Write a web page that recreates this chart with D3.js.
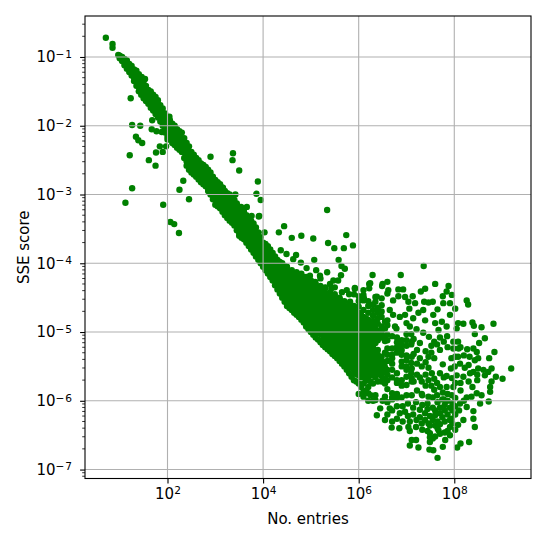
<!DOCTYPE html>
<html lang="en">
<head>
<meta charset="utf-8">
<title>SSE score vs entries</title>
<script src="https://cdnjs.cloudflare.com/ajax/libs/d3/7.1.1/d3.min.js"></script>
<style>
html, body { margin: 0; padding: 0; background: #fff; }
svg { display: block; }
text { font-family: "DejaVu Sans", sans-serif; fill: #000; }
</style>
</head>
<body>
<div id="chart"></div>
<script>

// all values as log10 exponents
// each row: entries exponent, then the sse exponents seen in that column
const headBand = [
  [0.71,-0.72],[0.85,-0.81,-0.865],[0.97,-0.97],[1.0,-0.98,-1.02],[1.05,-1.0,-1.06],
  [1.1,-1.03,-1.08,-1.12],[1.15,-1.05,-1.11,-1.17],[1.2,-1.10,-1.16,-1.22],[1.25,-1.13,-1.2,-1.27],
  [1.3,-1.18,-1.24,-1.3,-1.35],[1.35,-1.2,-1.28,-1.35,-1.42],[1.4,-1.25,-1.32,-1.38,-1.44,-1.5],
  [1.45,-1.3,-1.37,-1.44,-1.5,-1.55],[1.5,-1.35,-1.41,-1.47,-1.54,-1.6],[1.55,-1.42,-1.48,-1.54,-1.6,-1.64],
  [1.6,-1.48,-1.53,-1.59,-1.64,-1.68],[1.65,-1.5,-1.57,-1.63,-1.7,-1.74],[1.7,-1.55,-1.61,-1.67,-1.73,-1.78],
  [1.75,-1.58,-1.65,-1.71,-1.77,-1.83],[1.8,-1.63,-1.69,-1.75,-1.82,-1.88],[1.85,-1.7,-1.76,-1.82,-1.88,-1.94],
  [1.9,-1.75,-1.81,-1.87,-1.94,-2.0],[1.95,-1.82,-1.89,-1.96,-2.03,-2.1],
  [2.0,-1.9,-1.96,-2.03,-2.1,-2.16,-2.2],[2.05,-1.92,-1.99,-2.06,-2.13,-2.2],[2.1,-1.97,-2.03,-2.1,-2.17,-2.25],
  [2.15,-2.0,-2.07,-2.14,-2.21,-2.28],[2.2,-2.05,-2.11,-2.18,-2.25,-2.32],[2.25,-2.08,-2.15,-2.22,-2.29,-2.35],
  [2.3,-2.1,-2.18,-2.25,-2.32,-2.38],[2.35,-2.18,-2.25,-2.32,-2.39,-2.47],[2.4,-2.25,-2.31,-2.38,-2.45,-2.52,-2.58],
  [2.45,-2.3,-2.37,-2.44,-2.51,-2.58,-2.64],[2.5,-2.38,-2.44,-2.5,-2.56,-2.62,-2.68],[2.55,-2.42,-2.48,-2.54,-2.6,-2.66,-2.71],
  [2.6,-2.47,-2.53,-2.59,-2.65,-2.7,-2.74],[2.65,-2.5,-2.56,-2.62,-2.68,-2.74,-2.78],[2.7,-2.55,-2.61,-2.67,-2.72,-2.77,-2.82],
  [2.75,-2.57,-2.63,-2.7,-2.76,-2.82,-2.85],[2.8,-2.6,-2.67,-2.73,-2.79,-2.84,-2.88],[2.85,-2.64,-2.71,-2.78,-2.85,-2.91,-2.95],
  [2.9,-2.68,-2.75,-2.82,-2.88,-2.94,-3.0],[2.95,-2.74,-2.8,-2.87,-2.94,-3.01,-3.07],[3.0,-2.79,-2.85,-2.92,-2.98,-3.05,-3.15]
];

const midBand = [
  [3.05,-2.82,-2.89,-2.96,-3.03,-3.1,-3.17],[3.1,-2.85,-2.92,-2.99,-3.06,-3.13,-3.2],[3.15,-2.9,-2.97,-3.04,-3.11,-3.18,-3.25],
  [3.2,-2.95,-3.02,-3.09,-3.16,-3.23,-3.3],[3.25,-2.98,-3.05,-3.12,-3.19,-3.26,-3.34],[3.3,-3.0,-3.07,-3.14,-3.22,-3.3,-3.38],
  [3.35,-3.05,-3.12,-3.19,-3.26,-3.33,-3.41],[3.4,-3.08,-3.15,-3.22,-3.29,-3.37,-3.45],[3.45,-3.13,-3.2,-3.27,-3.35,-3.43,-3.52],
  [3.5,-3.18,-3.25,-3.33,-3.4,-3.48,-3.56,-3.6],[3.55,-3.21,-3.29,-3.36,-3.44,-3.52,-3.6,-3.63],[3.6,-3.25,-3.33,-3.4,-3.48,-3.55,-3.62,-3.65],
  [3.65,-3.3,-3.37,-3.44,-3.51,-3.58,-3.65,-3.7],[3.7,-3.34,-3.41,-3.48,-3.55,-3.62,-3.69,-3.75],[3.75,-3.38,-3.45,-3.52,-3.59,-3.66,-3.73,-3.8],
  [3.8,-3.42,-3.49,-3.56,-3.63,-3.7,-3.78,-3.85],[3.85,-3.48,-3.55,-3.62,-3.69,-3.76,-3.83,-3.9],[3.9,-3.55,-3.62,-3.69,-3.76,-3.83,-3.9,-3.95],
  [3.95,-3.62,-3.69,-3.76,-3.83,-3.9,-3.96,-4.0],[4.0,-3.7,-3.76,-3.82,-3.88,-3.94,-4.0,-4.05],[4.05,-3.72,-3.79,-3.86,-3.93,-4.0,-4.06,-4.1],
  [4.1,-3.75,-3.82,-3.89,-3.96,-4.03,-4.1,-4.15],[4.15,-3.8,-3.87,-3.94,-4.01,-4.08,-4.15,-4.2],[4.2,-3.85,-3.92,-3.99,-4.06,-4.13,-4.2,-4.25],
  [4.25,-3.9,-3.97,-4.04,-4.11,-4.18,-4.25,-4.32],[4.3,-3.95,-4.02,-4.09,-4.16,-4.23,-4.3,-4.38],[4.35,-3.98,-4.05,-4.12,-4.19,-4.26,-4.33,-4.4,-4.44],
  [4.4,-4.0,-4.07,-4.14,-4.21,-4.28,-4.35,-4.42,-4.5],[4.45,-4.04,-4.11,-4.18,-4.25,-4.32,-4.39,-4.46,-4.56],[4.5,-4.05,-4.12,-4.19,-4.26,-4.33,-4.4,-4.47,-4.54,-4.62],
  [4.55,-4.14,-4.21,-4.28,-4.35,-4.42,-4.49,-4.56,-4.65],[4.6,-4.1,-4.17,-4.24,-4.31,-4.38,-4.45,-4.52,-4.6,-4.68],[4.65,-4.15,-4.22,-4.29,-4.36,-4.43,-4.5,-4.57,-4.64,-4.72],
  [4.7,-4.13,-4.2,-4.27,-4.34,-4.41,-4.48,-4.55,-4.62,-4.69,-4.75],[4.75,-4.2,-4.27,-4.34,-4.41,-4.48,-4.55,-4.62,-4.69,-4.78],[4.8,-4.15,-4.22,-4.29,-4.36,-4.43,-4.5,-4.57,-4.64,-4.71,-4.82],
  [4.85,-4.2,-4.27,-4.34,-4.41,-4.48,-4.55,-4.62,-4.69,-4.76,-4.86],[4.9,-4.2,-4.28,-4.35,-4.42,-4.49,-4.56,-4.63,-4.7,-4.78,-4.85,-4.92],[4.95,-4.25,-4.33,-4.4,-4.47,-4.54,-4.61,-4.68,-4.75,-4.82,-4.9,-4.96],
  [5.0,-4.25,-4.33,-4.4,-4.47,-4.54,-4.61,-4.68,-4.75,-4.82,-4.9,-5.0],[5.05,-4.32,-4.39,-4.46,-4.53,-4.6,-4.67,-4.74,-4.81,-4.88,-4.95,-5.04],[5.1,-4.3,-4.37,-4.44,-4.51,-4.58,-4.65,-4.72,-4.79,-4.86,-4.93,-5.0,-5.08],
  [5.15,-4.38,-4.45,-4.52,-4.59,-4.66,-4.73,-4.8,-4.87,-4.94,-5.01,-5.11],[5.2,-4.22,-4.33,-4.4,-4.47,-4.54,-4.61,-4.68,-4.75,-4.82,-4.89,-4.96,-5.03,-5.15],[5.25,-4.42,-4.49,-4.56,-4.63,-4.7,-4.77,-4.84,-4.91,-4.98,-5.05,-5.12,-5.19],
  [5.3,-4.35,-4.43,-4.5,-4.57,-4.64,-4.71,-4.78,-4.85,-4.92,-4.99,-5.06,-5.13,-5.22],[5.35,-4.46,-4.53,-4.6,-4.67,-4.74,-4.81,-4.88,-4.95,-5.02,-5.09,-5.16,-5.25],[5.4,-4.3,-4.42,-4.49,-4.56,-4.63,-4.7,-4.77,-4.84,-4.91,-4.98,-5.05,-5.12,-5.19,-5.28],
  [5.45,-4.48,-4.55,-4.62,-4.69,-4.76,-4.83,-4.9,-4.97,-5.04,-5.11,-5.18,-5.25,-5.32],[5.5,-4.35,-4.45,-4.52,-4.59,-4.66,-4.73,-4.8,-4.87,-4.94,-5.01,-5.08,-5.15,-5.22,-5.29,-5.35],[5.55,-4.56,-4.63,-4.7,-4.77,-4.84,-4.91,-4.98,-5.05,-5.12,-5.19,-5.26,-5.33,-5.38],
  [5.6,-4.5,-4.57,-4.64,-4.71,-4.78,-4.85,-4.92,-4.99,-5.06,-5.13,-5.2,-5.27,-5.34,-5.42],[5.65,-4.42,-4.6,-4.67,-4.74,-4.81,-4.88,-4.95,-5.02,-5.09,-5.16,-5.23,-5.3,-5.37,-5.46],[5.7,-4.55,-4.62,-4.69,-4.76,-4.83,-4.9,-4.97,-5.04,-5.11,-5.18,-5.25,-5.32,-5.39,-5.5],
  [5.75,-4.64,-4.71,-4.78,-4.85,-4.92,-4.99,-5.06,-5.13,-5.2,-5.27,-5.34,-5.41,-5.48,-5.55],[5.8,-4.45,-4.6,-4.67,-4.74,-4.81,-4.88,-4.95,-5.02,-5.09,-5.16,-5.23,-5.3,-5.37,-5.44,-5.52,-5.6],[5.85,-4.68,-4.75,-4.82,-4.89,-4.96,-5.03,-5.1,-5.17,-5.24,-5.31,-5.38,-5.45,-5.52,-5.65],
  [5.9,-4.45,-4.62,-4.69,-4.76,-4.83,-4.9,-4.97,-5.04,-5.11,-5.18,-5.25,-5.32,-5.39,-5.46,-5.53,-5.6,-5.7]
];

const wideBand = [
  [5.95,-4.7,-4.77,-4.84,-4.91,-4.98,-5.05,-5.12,-5.19,-5.26,-5.33,-5.4,-5.47,-5.54,-5.61,-5.72],
  [6.0,-4.48,-4.55,-4.63,-4.72,-4.79,-4.86,-4.93,-5.0,-5.07,-5.14,-5.21,-5.28,-5.35,-5.42,-5.49,-5.56,-5.63,-5.75,-5.9],
  [6.05,-4.75,-4.82,-4.89,-4.96,-5.03,-5.1,-5.17,-5.24,-5.31,-5.38,-5.45,-5.52,-5.59,-5.66,-5.8],
  [6.1,-4.39,-4.46,-4.54,-4.68,-4.78,-4.85,-4.92,-4.99,-5.06,-5.13,-5.2,-5.27,-5.34,-5.41,-5.48,-5.55,-5.62,-5.75,-5.87,-5.94],
  [6.15,-4.8,-4.87,-4.94,-5.01,-5.08,-5.15,-5.22,-5.29,-5.36,-5.43,-5.5,-5.57,-5.64,-5.71,-5.85],
  [6.2,-4.55,-4.62,-4.72,-4.82,-4.89,-4.96,-5.03,-5.1,-5.17,-5.24,-5.31,-5.38,-5.45,-5.52,-5.59,-5.66,-5.8,-5.89,-6.0],
  [6.25,-4.85,-4.92,-4.99,-5.06,-5.13,-5.2,-5.27,-5.34,-5.41,-5.48,-5.55,-5.62,-5.72,-5.92],
  [6.3,-4.6,-4.68,-4.76,-4.84,-4.93,-5.0,-5.07,-5.14,-5.21,-5.28,-5.35,-5.42,-5.49,-5.56,-5.63,-5.75,-6.0],
  [6.35,-4.49,-4.56,-4.86,-4.95,-5.02,-5.09,-5.16,-5.3,-5.37,-5.44,-5.51,-5.58,-5.66,-5.92,-5.99],
  [6.4,-4.65,-4.72,-4.8,-4.88,-4.98,-5.05,-5.12,-5.26,-5.33,-5.4,-5.47,-5.54,-5.61,-5.72],
  [6.48,-4.51,-4.61,-4.7,-4.78,-4.92,-5.0,-5.08,-5.36,-5.43,-5.5,-5.57,-5.64,-5.72],
  [6.55,-4.85,-4.95,-5.06,-5.13,-5.3,-5.44,-5.51,-5.58,-5.68,-5.75,-5.94],
  [6.6,-4.83,-4.9,-5.04,-5.12,-5.24,-5.33,-5.42,-5.55,-5.62,-5.7,-5.83],
  [6.7,-5.06,-5.24,-5.33,-5.38,-5.46,-5.55,-5.66,-5.89,-5.95,-5.98],
  [6.8,-5.08,-5.15,-5.22,-5.3,-5.6,-5.7,-5.74,-5.9,-5.96],
  [6.9,-5.12,-5.19,-5.26,-5.33,-5.43,-5.5,-5.7,-5.78,-5.95],
  [7.0,-5.03,-5.12,-5.2,-5.34,-5.41,-5.5,-5.55,-5.65,-5.77,-5.92],
  [7.11,-5.14,-5.36,-5.53,-5.67,-5.72,-5.92]
];

const farCloud = [
  [7.36,-4.04],[6.29,-4.17],[6.88,-4.17],[6.22,-4.30],[6.60,-4.27,-4.44],[6.49,-4.33],[5.92,-4.37],[7.60,-4.30],
  [7.88,-4.33],[7.39,-4.37],[7.30,-4.41],[6.83,-4.38,-4.48],[6.93,-4.38],[7.84,-4.41],[7.95,-4.46],[7.76,-4.48],
  [7.13,-4.48],[8.26,-4.54],[8.29,-4.60],[6.72,-4.54,-4.75],[6.97,-4.49,-4.75],[7.04,-4.56],[7.06,-4.66],[6.86,-4.78],[6.65,-4.68],
  [8.82,-4.88],[8.57,-4.93],[8.38,-4.86],[8.41,-4.91],[8.19,-4.88],[8.08,-4.87],[8.05,-4.95],[8.02,-4.66],[7.91,-4.58,-4.75],
  [7.77,-4.58],[7.65,-4.67],[7.55,-4.56],[7.46,-4.57],[7.37,-4.56],[7.35,-4.68,-5.01],[7.25,-4.72],[7.18,-4.58],[7.14,-4.80],
  [7.39,-4.83],[7.56,-4.75],[7.60,-4.87],[7.74,-4.85],[7.84,-4.92],[7.67,-4.97],[7.21,-4.96],[7.0,-4.87],[7.07,-4.92],[6.76,-4.92],
  [6.79,-4.95],[7.47,-5.07],[7.85,-5.06],[8.43,-5.03,-5.41],[8.64,-5.09,-5.63],[8.52,-5.16],[8.08,-5.14,-5.36,-6.35],[8.09,-5.24],[8.27,-5.25],
  [8.40,-5.24,-5.58,-6.15,-6.26],[8.47,-5.29,-5.89],[8.84,-5.29],[8.32,-5.36],[8.50,-5.38,-5.53],[8.73,-5.38],[7.94,-5.38],[8.12,-5.46,-6.04],
  [8.22,-5.52],[8.01,-5.50],[7.93,-5.53],[7.76,-5.47,-5.88,-6.67],[9.19,-5.53],[8.78,-5.53,-5.72],[8.71,-5.58],[8.61,-5.55],[8.33,-5.60],
  [8.19,-5.65,-6.28],[8.05,-5.63],[7.95,-5.67,-5.92,-6.26],[7.84,-5.64,-5.80],[7.70,-5.60],[7.53,-5.60],[9.01,-5.68],[8.87,-5.65],[8.75,-5.80,-5.87],
  [8.38,-5.80],[8.13,-5.85],[8.57,-5.92],[8.36,-5.94],[8.26,-5.95,-6.09],[8.54,-6.04],[8.72,-6.01],[8.43,-6.38],[7.91,-6.38,-6.50],
  [8.31,-6.60],[8.13,-6.62],[8.06,-6.68],[7.81,-6.57],[7.65,-6.83],[7.56,-6.72],[7.48,-6.71],[7.25,-6.68],[7.07,-6.65],[7.11,-6.57],[7.20,-6.57],
  [7.49,-6.60,-6.47],[7.60,-6.52],[7.67,-6.43],[7.46,-6.33],[7.32,-6.33],[7.21,-6.28],[7.04,-6.38],[6.85,-6.40],[6.69,-6.39],[6.55,-6.28],
  [6.38,-6.21],[6.45,-6.11],[6.65,-6.11]
];

const lowerLobe = [
  [6.5,-6.0],[6.6,-6.02,-6.2],[6.7,-6.14,-6.3],[6.8,-6.08,-6.26],
  [6.86,-6.18],[6.92,-6.08,-6.3],[6.97,-6.16],[7.03,-6.04,-6.22],
  [7.07,-6.3,-6.44],[7.14,-6.1,-6.2],[7.2,-6.02,-6.38],[7.28,-6.13,-6.24],
  [7.33,-5.92,-6.06,-6.42],[7.39,-6.18,-6.28],[7.44,-6.04,-6.12,-6.44],[7.49,-6.22,-6.36,-6.53],
  [7.55,-5.95,-6.1,-6.28,-6.55],[7.6,-6.14,-6.21,-6.36],[7.65,-6.02,-6.3,-6.4],
  [7.7,-6.1,-6.18,-6.34,-6.48],[7.75,-5.98,-6.24],[7.8,-6.06,-6.14,-6.3,-6.46],
  [7.86,-6.0,-6.2,-6.44],[7.91,-6.1,-6.28],[7.96,-6.03,-6.14,-6.33],[8.02,-6.08,-6.2,-6.42],[8.1,-6.14]
];

const fanMiddle = [
  [7.1,-5.03,-5.18,-5.45,-5.6],[7.15,-5.1,-5.32,-5.72],[7.22,-5.26,-5.46,-5.62,-5.85],[7.28,-5.16,-5.38,-5.66],[7.32,-5.5,-5.72,-5.9],
  [7.4,-5.28,-5.44,-5.62,-5.78],[7.46,-5.36,-5.52,-5.7,-5.94],[7.52,-5.2,-5.3,-5.78],[7.58,-5.14,-5.38,-5.68,-5.84],[7.64,-5.18,-5.74,-5.92],
  [7.7,-5.08,-5.26,-5.8],[7.78,-5.14,-5.66,-5.98],[7.86,-5.22,-5.9],[7.98,-5.14,-5.24,-5.8],[8.02,-5.36,-5.74,-5.96],[8.13,-5.22,-5.74],
  [8.2,-5.34,-6.0],[8.3,-5.48,-5.72],[8.48,-5.62,-5.7]
];

const outliers = [
  [1.46,-1.29],[1.53,-1.32],[1.23,-1.60],[1.26,-1.99,-2.91],[1.43,-2.0],[1.34,-2.16],[1.39,-2.21],[1.47,-2.25],[1.21,-2.43],
  [1.61,-2.50],[1.75,-2.58],[1.76,-2.39],[1.84,-2.30],[1.90,-2.38],[1.97,-2.30],[1.12,-3.12],[1.91,-3.15],[2.06,-3.40],
  [2.14,-3.43],[2.24,-3.56],[2.25,-2.93],[2.33,-2.80],[2.45,-3.07],[2.90,-2.45],[3.37,-2.40],[3.36,-2.50],[3.50,-2.65],
  [3.89,-2.81],[3.86,-2.99],[3.42,-3.0],[3.95,-3.08],[3.91,-3.32],[3.16,-2.90],[4.33,-3.55],[4.44,-3.46],[4.60,-3.63],
  [4.80,-3.60],[1.67,-2.05],[1.77,-2.08],[1.88,-2.09],[1.68,-1.92],[2.04,-1.87],[4.03,-3.55],[4.10,-3.77],[4.37,-3.81],
  [3.66,-3.18],[3.54,-3.18],[3.76,-3.31],[3.92,-3.31],[5.34,-3.225,-4.13],[5.05,-3.64],[5.36,-3.705],[5.49,-3.78],
  [5.69,-3.78],[5.74,-3.59],[5.88,-3.74],[4.49,-3.865],[4.69,-3.88],[4.63,-3.94],[5.07,-3.95],[5.58,-3.95],[4.79,-3.99],
  [5.64,-4.04],[5.71,-4.08],[5.11,-4.10],[4.91,-4.07],[6.24,-4.29],[6.22,-4.365],[5.63,-4.175],[5.47,-4.25],[5.57,-4.25],
  [5.19,-4.18],[4.98,-4.18],[4.88,-4.25],[5.75,-4.39],[5.92,-4.36],[6.50,-4.30],[6.62,-4.39],[6.38,-4.485],[6.11,-4.51],
  [5.82,-4.56],[5.61,-4.53],[5.68,-4.61],[5.30,-4.36],[5.43,-4.365],[5.09,-4.27]
];

const xTickExps = [2, 4, 6, 8];
const yTickExps = [-1, -2, -3, -4, -5, -6, -7];
const xLabel = "No. entries";
const yLabel = "SSE score";

const width = 548;
const height = 548;
const left = 85;
const right = 531;
const top_ = 16;
const bottom = 478.5;

const svg = d3.select("#chart")
  .append("svg")
  .attr("width", width)
  .attr("height", height);

const x = d3.scaleLog().domain([Math.pow(10, 0.274), Math.pow(10, 9.605)]).range([left, right]);
const y = d3.scaleLog().domain([Math.pow(10, -7.13), Math.pow(10, -0.404)]).range([bottom, top_]);

// flatten the rows into points
const points = [];
[headBand, midBand, wideBand, farCloud, lowerLobe, fanMiddle, outliers].forEach(rows => {
  rows.forEach(row => {
    row.slice(1).forEach(e => points.push({ entries: Math.pow(10, row[0]), sse: Math.pow(10, e) }));
  });
});

svg.append("g")
  .selectAll("circle")
  .data(points)
  .enter()
  .append("circle")
  .attr("cx", d => x(d.entries))
  .attr("cy", d => y(d.sse))
  .attr("r", 3.2)
  .attr("fill", "#008000");

const xTicks = xTickExps.map(e => Math.pow(10, e));
const yTicks = yTickExps.map(e => Math.pow(10, e));

// grid sits on top of the dots
const grid = svg.append("g").attr("stroke", "#b0b0b0").attr("stroke-width", 1.1);
grid.selectAll(".gx").data(xTicks).enter().append("line")
  .attr("x1", d => x(d)).attr("x2", d => x(d)).attr("y1", top_).attr("y2", bottom);
grid.selectAll(".gy").data(yTicks).enter().append("line")
  .attr("y1", d => y(d)).attr("y2", d => y(d)).attr("x1", left).attr("x2", right);

function powerLabel(sel, exps) {
  sel.selectAll("text").each(function(d, i) {
    const t = d3.select(this).text(null);
    t.append("tspan").text("10");
    const sup = t.append("tspan")
      .attr("dy", "-0.42em")
      .attr("font-size", "10.6px")
      .text(String(exps[i]).replace("-", "\u2212"));
    if (exps[i] < 0) sup.attr("letter-spacing", "1px");
  });
}

const xAxis = d3.axisBottom(x).tickValues(xTicks).tickSize(4.9).tickPadding(4.5).tickFormat(() => "x");
const gx = svg.append("g").attr("transform", `translate(0,${bottom})`).call(xAxis);
gx.selectAll("text").attr("font-size", "15px").attr("font-family", "DejaVu Sans");
powerLabel(gx, xTickExps);

// y minor ticks: 2..9 in each decade in range
const minors = [];
d3.range(-8, 0).forEach(e => {
  d3.range(2, 10).forEach(m => {
    const v = m * Math.pow(10, e);
    if (y(v) >= top_ && y(v) <= bottom) minors.push(v);
  });
});
svg.append("g").selectAll("line").data(minors).enter().append("line")
  .attr("x1", left - 2.8).attr("x2", left)
  .attr("y1", d => y(d)).attr("y2", d => y(d))
  .attr("stroke", "#000").attr("stroke-width", 0.8);

const yAxis = d3.axisLeft(y).tickValues(yTicks).tickSize(4.9).tickPadding(7).tickFormat(() => "y");
const gy = svg.append("g").attr("transform", `translate(${left},0)`).call(yAxis);
gy.selectAll("text").attr("font-size", "15px").attr("font-family", "DejaVu Sans");
powerLabel(gy, yTickExps);

[gx, gy].forEach(g => {
  g.select(".domain").remove();
  g.selectAll("line").attr("stroke", "#000").attr("stroke-width", 1.1);
  g.selectAll("text").attr("fill", "#000");
});

svg.append("rect")
  .attr("x", left).attr("y", top_)
  .attr("width", right - left).attr("height", bottom - top_)
  .attr("fill", "none").attr("stroke", "#000").attr("stroke-width", 1.1);

svg.append("text")
  .attr("x", (left + right) / 2).attr("y", 524)
  .attr("text-anchor", "middle").attr("font-size", "15px")
  .text(xLabel);

svg.append("text")
  .attr("transform", `translate(29,${(top_ + bottom) / 2}) rotate(-90)`)
  .attr("text-anchor", "middle").attr("font-size", "15px")
  .text(yLabel);

</script>
</body>
</html>
